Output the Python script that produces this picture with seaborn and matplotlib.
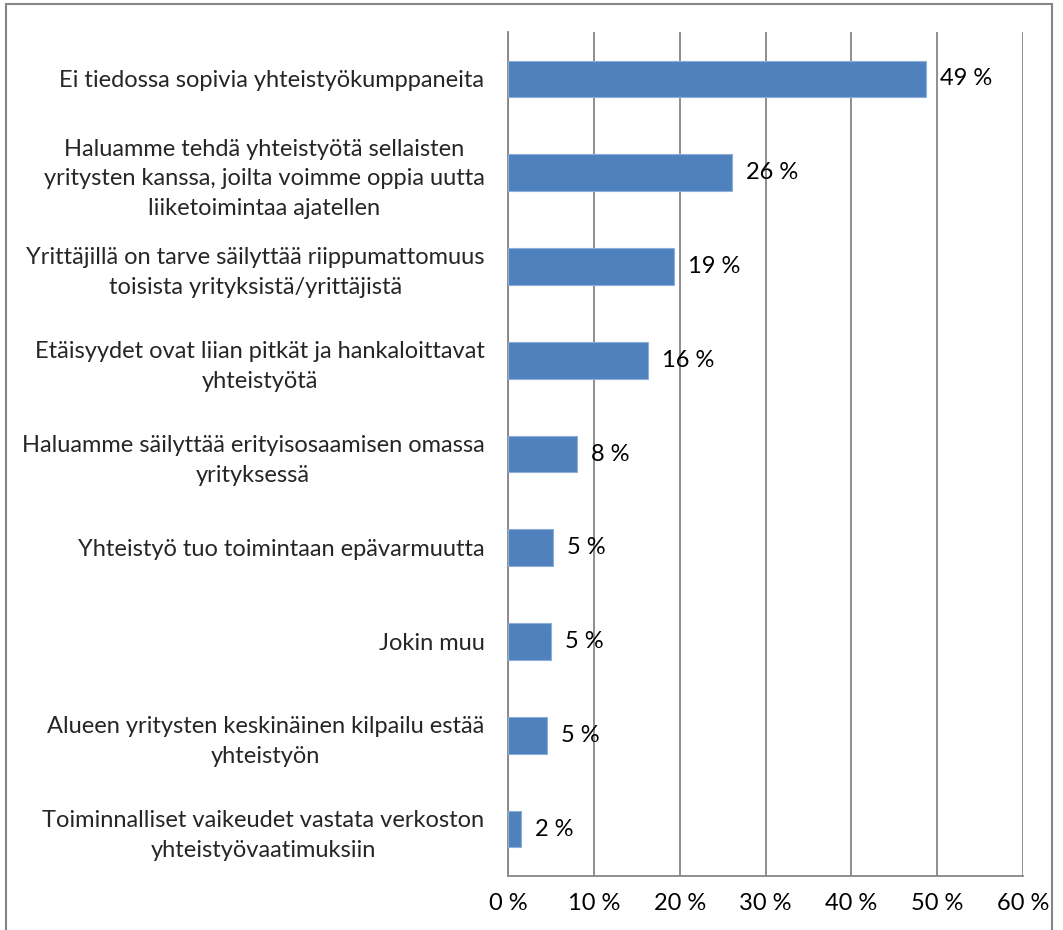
import matplotlib
matplotlib.use("Agg")
import matplotlib.pyplot as plt
import seaborn as sns
import pandas as pd
from matplotlib.patches import Rectangle
from matplotlib.ticker import FuncFormatter, FixedLocator

categories = [
    "Ei tiedossa sopivia yhteistyökumppaneita",
    "Haluamme tehdä yhteistyötä sellaisten\nyritysten kanssa, joilta voimme oppia uutta\nliiketoimintaa ajatellen",
    "Yrittäjillä on tarve säilyttää riippumattomuus\ntoisista yrityksistä/yrittäjistä",
    "Etäisyydet ovat liian pitkät ja hankaloittavat\nyhteistyötä",
    "Haluamme säilyttää erityisosaamisen omassa\nyrityksessä",
    "Yhteistyö tuo toimintaan epävarmuutta",
    "Jokin muu",
    "Alueen yritysten keskinäinen kilpailu estää\nyhteistyön",
    "Toiminnalliset vaikeudet vastata verkoston\nyhteistyövaatimuksiin",
]
values = [48.7, 26.1, 19.3, 16.3, 8.0, 5.3, 5.0, 4.5, 1.5]
value_labels = ["49 %", "26 %", "19 %", "16 %", "8 %", "5 %", "5 %", "5 %", "2 %"]
x_ticks = [0, 10, 20, 30, 40, 50, 60]

sns.set_style("white")
plt.rcParams["font.family"] = ["Lato", "DejaVu Sans"]

FS = 17
W, H = 1063, 930
fig = plt.figure(figsize=(W / 100, H / 100), dpi=100)
ax = fig.add_axes([508 / W, 1 - 876 / H, (1023 - 508) / W, (876 - 32) / H])

df = pd.DataFrame({"cat": categories, "val": values})
sns.barplot(data=df, x="val", y="cat", orient="h", color="#4F81BD",
            saturation=1, width=0.39, edgecolor="#8EAEDA", linewidth=0.8,
            ax=ax, zorder=3)

ax.set_xlim(0, 60)
ax.set_ylim(len(categories) - 0.5, -0.5)
ax.xaxis.set_major_locator(FixedLocator(x_ticks))
ax.xaxis.set_major_formatter(FuncFormatter(lambda v, p: f"{int(v)} %"))
ax.grid(axis="x", color="#868686", linewidth=1.3, zorder=0)
ax.set_axisbelow(True)
ax.set_xlabel("")
ax.set_ylabel("")

for s in ["top", "right"]:
    ax.spines[s].set_visible(False)
for s in ["left", "bottom"]:
    ax.spines[s].set_color("#868686")
    ax.spines[s].set_linewidth(1.3)

ax.tick_params(axis="x", direction="out", length=6, width=1.3, color="#868686",
               labelsize=FS, labelcolor="black", pad=6)
ax.tick_params(axis="y", which="major", length=0, labelsize=FS, pad=17)
ax.set_yticks(range(len(categories)))
ax.set_yticklabels(categories, multialignment="center")
ax.set_yticks([i - 0.5 for i in range(len(categories) + 1)], minor=True)
ax.tick_params(axis="y", which="minor", direction="out", length=6, width=1.3,
               color="#868686")
for t in ax.get_yticklabels():
    t.set_linespacing(1.5)

for i, (v, lab) in enumerate(zip(values, value_labels)):
    ax.annotate(lab, xy=(v, i), xytext=(10, 0), textcoords="offset points",
                ha="left", va="center", fontsize=FS, color="black", zorder=4)

fig.add_artist(Rectangle((6 / W, -0.01), (1052 - 6) / W, (H - 4) / H + 0.01,
                         transform=fig.transFigure, fill=False,
                         edgecolor="#868686", linewidth=1.5))

fig.savefig("out.png", dpi=100)
